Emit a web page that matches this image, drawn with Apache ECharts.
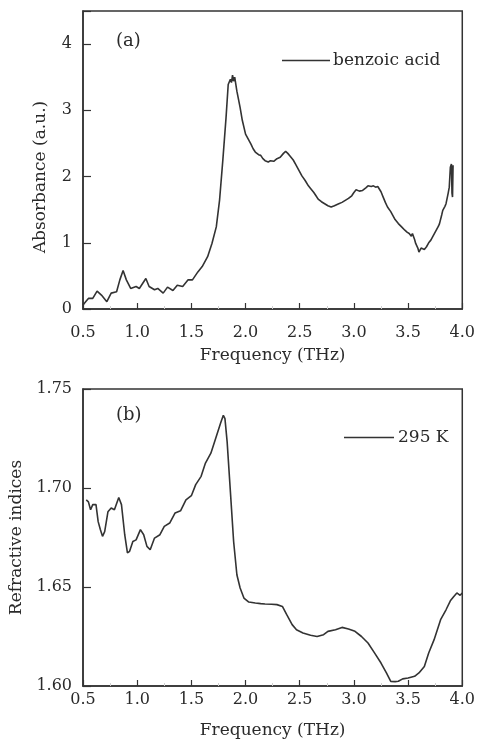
<!DOCTYPE html>
<html>
<head>
<meta charset="utf-8">
<script src="https://cdn.jsdelivr.net/npm/echarts@6/dist/echarts.min.js"></script>
<style>
html,body{margin:0;padding:0;background:#fff;}
#chart{width:478px;height:744px;}
</style>
</head>
<body>
<div id="chart"></div>
<script>
// Panel (a): absorbance of benzoic acid
const absFreq = [0.50,0.53,0.55,0.59,0.63,0.67,0.72,0.76,0.81,0.84,0.87,0.90,0.94,0.99,1.02,1.08,1.11,1.16,1.19,1.24,1.28,1.33,1.37,1.42,1.47,1.51,1.56,1.60,1.65,1.69,1.73,1.76,1.79,1.82,1.84,1.86,1.87,1.88,1.89,1.90,1.92,1.95,1.97,2.00,2.03,2.05,2.07,2.09,2.12,2.14,2.16,2.18,2.21,2.23,2.26,2.29,2.32,2.35,2.37,2.39,2.41,2.44,2.46,2.49,2.52,2.55,2.58,2.60,2.63,2.65,2.67,2.70,2.73,2.76,2.79,2.82,2.86,2.89,2.92,2.95,2.98,3.00,3.02,3.05,3.08,3.11,3.13,3.16,3.18,3.20,3.22,3.25,3.27,3.29,3.31,3.34,3.36,3.38,3.41,3.44,3.47,3.49,3.51,3.53,3.54,3.56,3.57,3.59,3.60,3.62,3.63,3.65,3.67,3.69,3.71,3.73,3.76,3.78,3.79,3.81,3.82,3.84,3.85,3.87,3.88,3.89,3.90,3.905,3.91,3.915];
const absVal = [0.06,0.12,0.16,0.16,0.27,0.21,0.11,0.24,0.26,0.44,0.58,0.44,0.31,0.34,0.31,0.46,0.34,0.29,0.31,0.24,0.33,0.28,0.36,0.34,0.44,0.44,0.56,0.64,0.79,0.99,1.24,1.64,2.24,2.89,3.39,3.47,3.42,3.53,3.44,3.50,3.29,3.04,2.85,2.64,2.55,2.49,2.42,2.37,2.33,2.32,2.27,2.24,2.22,2.24,2.23,2.27,2.29,2.35,2.38,2.35,2.31,2.25,2.19,2.10,2.01,1.94,1.86,1.82,1.76,1.71,1.66,1.62,1.59,1.56,1.54,1.56,1.59,1.61,1.64,1.67,1.71,1.76,1.80,1.78,1.79,1.83,1.86,1.85,1.86,1.84,1.85,1.77,1.69,1.61,1.54,1.47,1.41,1.35,1.29,1.24,1.19,1.16,1.14,1.10,1.14,1.05,0.99,0.92,0.86,0.92,0.94,0.90,0.94,1.00,1.04,1.10,1.19,1.25,1.29,1.42,1.49,1.55,1.59,1.75,1.84,2.14,2.19,1.75,1.69,2.17];

// Panel (b): refractive index at 295 K
const riFreq = [0.53,0.55,0.57,0.59,0.62,0.64,0.66,0.68,0.70,0.73,0.76,0.79,0.83,0.855,0.885,0.91,0.93,0.96,0.99,1.03,1.06,1.09,1.12,1.16,1.21,1.25,1.30,1.35,1.40,1.45,1.50,1.54,1.59,1.63,1.68,1.73,1.77,1.795,1.81,1.83,1.86,1.89,1.92,1.95,1.985,2.03,2.09,2.14,2.18,2.24,2.29,2.34,2.38,2.43,2.47,2.53,2.60,2.66,2.72,2.76,2.83,2.89,2.95,3.01,3.07,3.13,3.19,3.25,3.30,3.34,3.38,3.41,3.45,3.50,3.56,3.60,3.65,3.69,3.74,3.80,3.85,3.89,3.92,3.95,3.98,4.00];
const riVal = [1.694,1.693,1.689,1.6916,1.6916,1.683,1.679,1.6756,1.678,1.688,1.6899,1.689,1.6952,1.6916,1.6764,1.6672,1.668,1.673,1.6738,1.679,1.6764,1.6705,1.6688,1.6747,1.6764,1.6806,1.6823,1.6874,1.6885,1.694,1.6961,1.7017,1.7059,1.7126,1.7176,1.726,1.7328,1.7367,1.735,1.7234,1.6983,1.673,1.6562,1.6495,1.6444,1.6424,1.6419,1.6416,1.6414,1.6413,1.6411,1.6402,1.636,1.631,1.6284,1.6268,1.6256,1.625,1.6259,1.6276,1.6284,1.6296,1.6288,1.6276,1.625,1.6217,1.6167,1.6116,1.6066,1.6023,1.6022,1.6024,1.6036,1.604,1.6049,1.6066,1.6099,1.6167,1.6234,1.6335,1.6385,1.643,1.6451,1.647,1.6458,1.647];

const xTicks = [0.5,1.0,1.5,2.0,2.5,3.0,3.5,4.0];
const absTicks = [0,1,2,3,4];
const riTicks = [1.60,1.65,1.70,1.75];

const FONT = 'DejaVu Serif';
const INK = '#2a2a2a';
const LINE = '#333333';

function pairs(xs, ys){ return xs.map((x,i)=>[x, ys[i]]); }

function xAxisCfg(gridIndex, labelMargin, nameGap){
  return {
    type:'value', gridIndex, min:0.5, max:4.0, interval:0.5,
    name:'Frequency (THz)', nameLocation:'middle', nameGap,
    nameTextStyle:{fontFamily:FONT, fontSize:17, color:INK},
    axisLine:{show:true, lineStyle:{color:LINE, width:1.5}},
    axisTick:{show:true, inside:true, length:6, lineStyle:{color:LINE, width:1.2}},
    minorTick:{show:true, splitNumber:2, length:3, lineStyle:{color:'#cfcfcf', width:1}},
    axisLabel:{fontFamily:FONT, fontSize:16, color:INK, margin:labelMargin,
      formatter:v=>{ const t = xTicks.find(r=>Math.abs(r-v)<1e-6); return t===undefined ? '' : t.toFixed(1); }},
    splitLine:{show:false}
  };
}

const chart = echarts.init(document.getElementById('chart'), null, {renderer:'canvas'});
chart.setOption({
  backgroundColor:'#ffffff',
  animation:false,
  title:[
    {text:'(a)', left:111, top:27, textStyle:{fontFamily:FONT, fontSize:18, fontWeight:'normal', color:INK}},
    {text:'(b)', left:111, top:401, textStyle:{fontFamily:FONT, fontSize:18, fontWeight:'normal', color:INK}}
  ],
  legend:[
    {data:['benzoic acid'], left:277, top:47, icon:'rect', itemWidth:48, itemHeight:1.6, itemGap:0,
      itemStyle:{color:LINE},
      textStyle:{fontFamily:FONT, fontSize:17, color:INK, padding:[0,0,0,-2]}},
    {data:['295 K'], left:339, top:424, icon:'rect', itemWidth:50, itemHeight:1.6, itemGap:0,
      itemStyle:{color:LINE},
      textStyle:{fontFamily:FONT, fontSize:17, color:INK, padding:[0,0,0,-1]}}
  ],
  grid:[
    {left:83, top:11, width:381, height:298, show:true, borderColor:LINE, borderWidth:1.5, backgroundColor:'transparent'},
    {left:83, top:389, width:381, height:297, show:true, borderColor:LINE, borderWidth:1.5, backgroundColor:'transparent'}
  ],
  xAxis:[ xAxisCfg(0, 16, 38), xAxisCfg(1, 6, 36) ],
  yAxis:[
    {type:'value', gridIndex:0, min:0, max:4.5, interval:1,
      name:'Absorbance (a.u.)', nameLocation:'middle', nameGap:34,
      nameTextStyle:{fontFamily:FONT, fontSize:17, color:INK, padding:[0,34,0,0]},
      axisLine:{show:true, lineStyle:{color:LINE, width:1.5}},
      axisTick:{show:true, inside:true, length:8, lineStyle:{color:LINE, width:1.2}},
      axisLabel:{fontFamily:FONT, fontSize:16, color:INK, margin:11,
        formatter:v=> absTicks.includes(v) ? String(v) : ''},
      splitLine:{show:false}},
    {type:'value', gridIndex:1, min:1.60, max:1.75, interval:0.05,
      name:'Refractive indices', nameLocation:'middle', nameGap:48,
      nameTextStyle:{fontFamily:FONT, fontSize:17, color:INK},
      axisLine:{show:true, lineStyle:{color:LINE, width:1.5}},
      axisTick:{show:true, inside:true, length:8, lineStyle:{color:LINE, width:1.2}},
      axisLabel:{fontFamily:FONT, fontSize:16, color:INK, margin:11,
        formatter:v=>{ const t = riTicks.find(r=>Math.abs(r-v)<1e-6); return t===undefined ? '' : t.toFixed(2); }},
      splitLine:{show:false}}
  ],
  series:[
    {name:'benzoic acid', type:'line', xAxisIndex:0, yAxisIndex:0, data:pairs(absFreq, absVal),
      symbol:'none', smooth:false, lineStyle:{color:LINE, width:1.6}, itemStyle:{color:LINE}},
    {name:'295 K', type:'line', xAxisIndex:1, yAxisIndex:1, data:pairs(riFreq, riVal),
      symbol:'none', smooth:false, lineStyle:{color:LINE, width:1.6}, itemStyle:{color:LINE}}
  ]
});
</script>
</body>
</html>
